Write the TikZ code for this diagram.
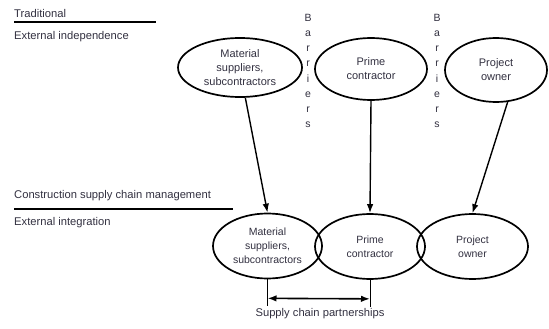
\documentclass[tikz,border=0pt]{standalone}
\usepackage{fontspec}
\setmainfont{Liberation Sans}
\usepackage{xcolor}
\usepackage{tikz}
\usetikzlibrary{shapes.geometric,arrows.meta}

\definecolor{inkgray}{RGB}{50,48,64}

\begin{document}
\begin{tikzpicture}[x=1pt,y=-1pt,
        party/.style={draw,line width=1.7pt,ellipse,inner sep=0pt,align=center,text=inkgray},
        toplabel/.style={font=\fontsize{11}{14}\selectfont},
        lowlabel/.style={font=\fontsize{10.5}{14}\selectfont},
        heading/.style={anchor=west,inner sep=0pt,text=inkgray,font=\fontsize{11.2}{12}\selectfont},
        barrier/.style={align=center,inner sep=0pt,text=inkgray,font=\fontsize{10.5}{15.2}\selectfont},
        link/.style={line width=1.4pt,-{Latex[length=9pt,width=6.5pt]}}]
        \useasboundingbox (0,0) rectangle (549,329);

        % traditional: external independence
        \node[heading] (trad) at (14,13) {Traditional};
        \node[heading] (indep) at (14,37) {External independence};
        \draw[line width=2.4pt] (14,22) -- (156,22);

        \node[party,toplabel,minimum width=124pt,minimum height=59pt] (supA) at (240,67.5) {Material\\suppliers,\\subcontractors};
        \node[party,toplabel,minimum width=112pt,minimum height=62pt] (primeA) at (371,69) {Prime\\contractor};
        \node[party,toplabel,minimum width=102pt,minimum height=64pt] (ownerA) at (496,70) {Project\\owner};

        \node[barrier] (barA) at (308,71) {B\\a\\r\\r\\i\\e\\r\\s};
        \node[barrier] (barB) at (437,71) {B\\a\\r\\r\\i\\e\\r\\s};

        % supply chain management: external integration
        \node[heading] (cscm) at (14,196) {Construction supply chain management};
        \node[heading] (integ) at (14,223) {External integration};
        \draw[line width=2.4pt] (14,209) -- (233,209);

        \node[party,lowlabel,minimum width=109pt,minimum height=65pt] (supB) at (267.5,246) {Material\\suppliers,\\subcontractors};
        \node[party,lowlabel,minimum width=110pt,minimum height=65pt] (primeB) at (370,246.5) {Prime\\contractor};
        \node[party,lowlabel,minimum width=111pt,minimum height=65pt] (ownerB) at (472.5,246.5) {Project\\owner};

        \draw[link] (supA.280) -- (supB.north);
        \draw[link] (primeA.south) -- (primeB.north);
        \draw[link] (ownerA.290) -- (ownerB.north);

        % partnership span
        \coordinate (pL) at ([yshift=-27pt]supB.south);
        \coordinate (pR) at ([yshift=-27pt]primeB.south);
        \draw[thick] (supB.south) -- (pL);
        \draw[thick] (primeB.south) -- (pR);
        \draw[line width=1.6pt,{Latex[length=9pt,width=6.5pt]}-{Latex[length=9pt,width=6.5pt]}] ([yshift=8pt]pL) -- ([yshift=8pt]pR);
        \node[heading,anchor=center] (partner) at (320,314) {Supply chain partnerships};
\end{tikzpicture}
\end{document}
